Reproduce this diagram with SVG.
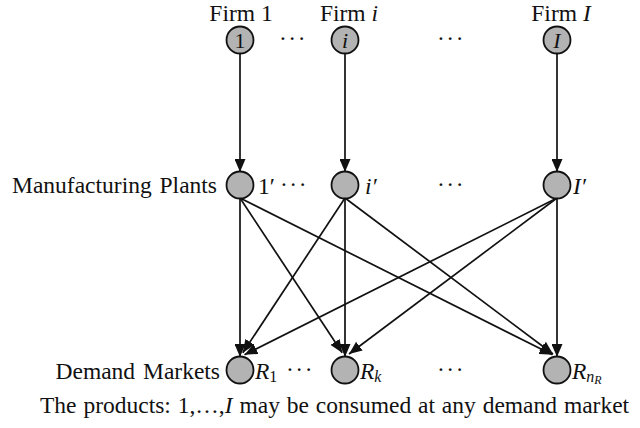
<svg xmlns="http://www.w3.org/2000/svg" width="640" height="428" viewBox="0 0 640 428">
  <style>
    text { font-family: "Liberation Serif", "Times New Roman", serif; font-size: 23.5px; fill: #111; }
    .it { font-style: italic; }
    .mid { text-anchor: middle; }
    .end { text-anchor: end; }
    .dots { letter-spacing: 1.5px; }
    .node { fill: #b3b3b3; stroke: #111; stroke-width: 1.8; }
    .edge { stroke: #111; stroke-width: 1.7; fill: none; marker-end: url(#arrow); }
  </style>
  <defs>
    <marker id="arrow" markerUnits="userSpaceOnUse" markerWidth="13" markerHeight="11" refX="13" refY="5.5" orient="auto">
      <path d="M0,0 L13,5.5 L0,11 z" fill="#111"/>
    </marker>
  </defs>
  <rect width="640" height="428" fill="#fff"/>

  <!-- connectors -->
  <g id="connectors">
    <!-- firms to plants -->
    <line class="edge" x1="240" y1="53.5" x2="240" y2="172"/>
    <line class="edge" x1="345" y1="53.5" x2="345" y2="172"/>
    <line class="edge" x1="557" y1="53.5" x2="557" y2="172"/>
    <!-- plant 1' to markets -->
    <line class="edge" x1="240" y1="198" x2="240" y2="357"/>
    <line class="edge" x1="240" y1="198" x2="342.2" y2="352.8"/>
    <line class="edge" x1="240" y1="198" x2="552.5" y2="354.8"/>
    <!-- plant i' to markets -->
    <line class="edge" x1="345" y1="198" x2="242.8" y2="352.8"/>
    <line class="edge" x1="345" y1="198" x2="345" y2="357"/>
    <line class="edge" x1="345" y1="198" x2="553" y2="354"/>
    <!-- plant I' to markets -->
    <line class="edge" x1="557" y1="198" x2="244.5" y2="354.8"/>
    <line class="edge" x1="557" y1="198" x2="349" y2="354"/>
    <line class="edge" x1="557" y1="198" x2="557" y2="357"/>
  </g>

  <!-- firms -->
  <g id="firm-1">
    <text class="mid" x="241" y="21">Firm 1</text>
    <circle class="node" cx="240" cy="40" r="13.5"/>
    <text class="mid" x="240" y="48" style="font-size:22px">1</text>
  </g>
  <text class="mid dots" x="293" y="46">···</text>
  <g id="firm-i">
    <text class="mid" x="349" y="21">Firm <tspan class="it">i</tspan></text>
    <circle class="node" cx="345" cy="40" r="13.5"/>
    <text class="mid it" x="345" y="48" style="font-size:22px">i</text>
  </g>
  <text class="mid dots" x="451" y="46">···</text>
  <g id="firm-I">
    <text class="mid" x="561" y="21">Firm <tspan class="it">I</tspan></text>
    <circle class="node" cx="557" cy="40" r="13.5"/>
    <text class="mid it" x="557" y="48" style="font-size:22px">I</text>
  </g>

  <!-- manufacturing plants -->
  <text class="end" x="217" y="193" style="word-spacing:2px">Manufacturing Plants</text>
  <g id="plant-1">
    <circle class="node" cx="240" cy="185" r="13.5"/>
    <text x="258" y="194">1′</text>
  </g>
  <text class="dots" x="280" y="192">···</text>
  <g id="plant-i">
    <circle class="node" cx="345" cy="185" r="13.5"/>
    <text class="it" x="365" y="194">i′</text>
  </g>
  <text class="mid dots" x="451" y="192">···</text>
  <g id="plant-I">
    <circle class="node" cx="557" cy="185" r="13.5"/>
    <text class="it" x="573" y="194">I′</text>
  </g>

  <!-- demand markets -->
  <text class="end" x="220" y="379" style="word-spacing:2px">Demand Markets</text>
  <g id="market-1">
    <circle class="node" cx="240" cy="370" r="13.5"/>
    <text x="255" y="379"><tspan class="it">R</tspan><tspan font-size="16" dy="3">1</tspan></text>
  </g>
  <text class="dots" x="286" y="377">···</text>
  <g id="market-k">
    <circle class="node" cx="345" cy="370" r="13.5"/>
    <text x="360" y="379"><tspan class="it">R</tspan><tspan class="it" font-size="16" dy="3">k</tspan></text>
  </g>
  <text class="mid dots" x="451" y="377">···</text>
  <g id="market-nR">
    <circle class="node" cx="557" cy="370" r="13.5"/>
    <text x="572" y="379"><tspan class="it">R</tspan><tspan class="it" font-size="16" dy="3">n</tspan><tspan class="it" font-size="12" dy="2">R</tspan></text>
  </g>

  <!-- caption -->
  <text x="40" y="413" style="word-spacing:1px">The products: 1,…,<tspan class="it">I</tspan> may be consumed at any demand market</text>
</svg>
